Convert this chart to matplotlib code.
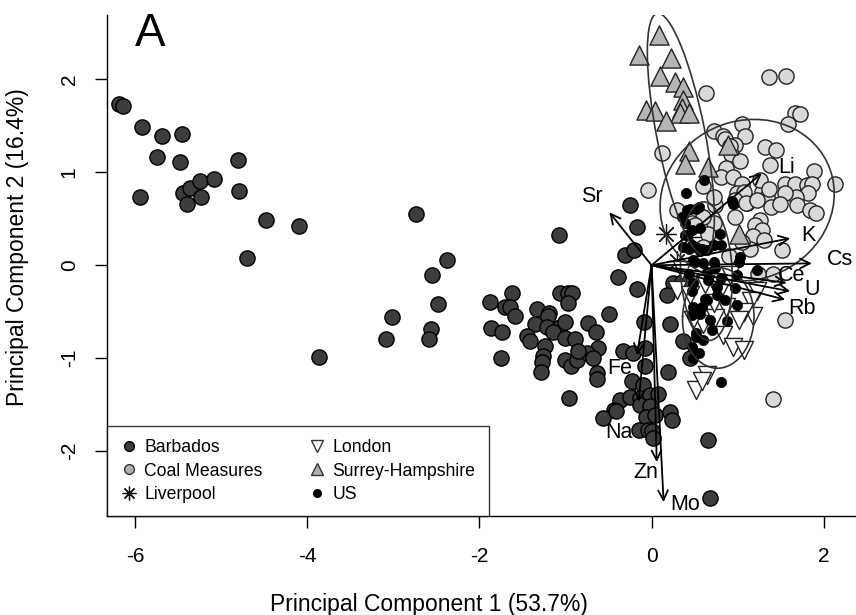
import numpy as np
import matplotlib
matplotlib.use("Agg")
import matplotlib.pyplot as plt
from matplotlib.lines import Line2D
from matplotlib.patches import FancyArrowPatch, Ellipse

plt.rcParams['font.family'] = ['Liberation Sans', 'DejaVu Sans']
plt.rcParams['axes.unicode_minus'] = False

# PCA scores per group (PC1, PC2)
barbados_x = [-6.18, -6.14, -5.92, -5.68, -5.45, -5.74, -5.48, -5.94, -5.44, -5.36, -5.40, -5.24, -5.23,
              -5.08, -4.80, -4.79, -4.48, -4.10, -4.70, -3.86, -2.73, -2.38, -2.55, -2.48, -3.02, -3.08,
              -2.56, -2.58, -1.88, -1.62, -1.70, -1.64, -1.59, -1.87, -1.74, -1.75, -1.33, -1.19, -1.20,
              -1.35, -1.21, -1.06, -1.01, -1.14, -1.45, -1.41, -1.24, -1.26, -1.27, -1.28, -1.06, -0.97,
              -0.92, -0.97, -1.01, -0.89, -1.01, -0.93, -0.87, -0.96, -1.07, -0.25, -0.17, -0.31, -0.20,
              -0.39, -0.17, -0.49, -0.74, -0.64, -0.62, -0.75, -0.68, -0.86, -0.63, -0.63, -0.33, -0.21,
              -0.23, -0.37, -0.44, -0.56, -0.08, -0.09, 0.21, -0.08, 0.19, -0.10, -0.25, -0.13, -0.02,
              0.08, 0.25, 0.18, 0.37, 0.45, 0.35, -0.41, -0.13, -0.02, -0.06, 0.04, 0.21, 0.24, -0.15,
              -0.04, 0.00, 0.02, 0.66, 0.68]
barbados_y = [1.74, 1.71, 1.49, 1.39, 1.41, 1.17, 1.11, 0.74, 0.78, 0.83, 0.66, 0.91, 0.73,
              0.93, 1.13, 0.80, 0.49, 0.42, 0.08, -0.99, 0.55, 0.06, -0.10, -0.42, -0.56, -0.79,
              -0.69, -0.79, -0.40, -0.30, -0.45, -0.45, -0.55, -0.68, -0.72, -1.00, -0.47, -0.51, -0.55,
              -0.63, -0.66, -0.66, -0.61, -0.72, -0.76, -0.82, -0.87, -0.98, -1.04, -1.15, -0.30, -0.30,
              -0.30, -0.41, -0.78, -0.79, -1.02, -1.09, -1.02, -1.43, 0.33, 0.65, 0.41, 0.11, 0.16,
              -0.13, -0.26, -0.52, -0.62, -0.72, -0.89, -0.95, -1.00, -0.92, -1.16, -1.23, -0.92, -0.95,
              -1.25, -1.45, -1.56, -1.65, -0.89, -0.61, -0.63, -1.09, -1.15, -1.29, -1.42, -1.43, -1.40,
              -1.39, -0.19, -0.32, -0.82, -1.00, -0.18, -1.57, -1.51, -1.52, -1.63, -1.61, -1.58, -1.67, -1.77,
              -1.77, -1.78, -1.86, -1.88, -2.51]

coal_x = [1.36, 1.56, 0.63, 1.67, 1.72, 1.58, 1.05, 1.08, 0.72, 0.83, 0.85, 0.97, 0.92, 1.03, 1.32,
          1.44, 1.37, 0.87, 0.81, 0.95, 1.05, 1.89, 2.13, 1.55, 1.67, 1.81, 1.86, 1.82, 1.68, 1.55,
          1.28, 1.34, 1.39, 1.49, 1.69, 1.84, 1.91, 1.11, 0.99, 0.60, 0.74, 1.26, 1.20, 0.97, 0.72,
          0.60, 0.47, 0.12, -0.04, 0.91, 0.72, 1.07, 0.97, 1.10, 1.22, 1.26, 1.36, 1.28, 1.18, 1.30,
          1.14, 1.52, 1.41, 1.24, 1.55, 0.66, 0.50, 1.41, 0.30, 0.60, 0.90, 1.05]
coal_y = [2.03, 2.04, 1.85, 1.64, 1.63, 1.52, 1.52, 1.39, 1.44, 1.39, 1.36, 1.30, 1.20, 1.12, 1.27,
          1.24, 1.08, 1.05, 0.95, 0.95, 0.88, 1.01, 0.87, 0.87, 0.87, 0.86, 0.87, 0.78, 0.74, 0.78,
          0.79, 0.73, 0.63, 0.66, 0.65, 0.60, 0.56, 0.67, 0.78, 0.85, 0.65, 0.49, 0.43, 0.52, 0.45,
          0.52, 0.45, 1.21, 0.81, 1.28, 0.74, 0.79, 0.70, 0.67, 0.70, 0.92, 0.82, 0.38, 0.31, 0.27,
          0.18, 0.16, -0.09, -0.09, -0.59, 0.34, 0.43, -1.44, 0.60, 0.20, 0.10, 0.25]

liverpool_x = [0.17, 0.45, 0.30]
liverpool_y = [0.34, 0.30, 0.05]

london_x = [0.91, 1.22, 1.16, 1.18, 1.07, 0.87, 0.83, 0.95, 1.07, 0.60, 0.74, 0.72, 0.29, 0.45,
            1.01, 0.48, 0.64, 0.52, 0.58, 0.35, 0.62, 0.78]
london_y = [-0.10, -0.28, -0.39, -0.55, -0.50, -0.45, -0.75, -0.88, -0.91, -0.63, -0.57, -0.41,
            -0.27, -0.32, -0.59, -0.59, -1.18, -1.34, -1.25, -0.05, -0.20, -0.30]

surrey_x = [0.09, -0.15, 0.23, 0.10, 0.27, 0.36, 0.36, -0.07, 0.04, 0.35, 0.33, 0.43, 0.17, 0.44,
            0.39, 0.65, 0.89, 1.01]
surrey_y = [2.48, 2.26, 2.23, 2.04, 1.97, 1.92, 1.78, 1.67, 1.66, 1.69, 1.64, 1.64, 1.55, 1.23,
            1.09, 1.06, 1.29, 0.34]

us_x = [0.81, 0.61, 0.55, 0.95, 0.40, 0.45, 0.93, 0.41, 0.52, 0.39, 0.47, 0.56, 0.39, 0.43, 0.58,
        0.64, 0.48, 0.79, 0.52, 0.72, 0.81, 1.03, 1.01, 1.22, 0.60, 0.74, 0.48, 0.66, 0.81, 0.97,
        0.64, 0.76, 0.99, 0.48, 0.56, 0.68, 0.52, 0.47, 0.48, 0.37, 0.47, 0.56, 0.50, 0.72, 0.43,
        0.64, 0.99, 0.47, 0.62, 0.76, 0.58, 0.85, 0.47, 0.52, 0.35, 0.88, 0.60, 0.55, 0.70]
us_y = [-1.26, 0.92, 0.63, 0.66, 0.78, 0.61, 0.69, 0.60, 0.61, 0.45, 0.38, 0.40, 0.33, 0.18, 0.18,
        0.16, 0.06, 0.34, 0.20, 0.22, 0.22, 0.09, 0.04, -0.05, 0.02, -0.03, -0.19, -0.16, -0.14, -0.25,
        -0.37, -0.32, -0.43, -0.45, -0.52, -0.59, -0.73, -0.88, -1.00, 0.20, 0.22, 0.15, 0.04, 0.04, -0.09,
        -0.07, -0.10, -0.28, -0.36, -0.23, -0.45, -0.37, -0.54, -0.77, 0.52, -0.60, -0.80, -0.95, -0.70]

# variable loadings (arrow tips) and label positions
var_names = ['Sr', 'Li', 'K', 'Cs', 'Ce', 'U', 'Rb', 'Fe', 'Na', 'Zn', 'Mo']
load_x = [-0.49, 1.28, 1.61, 1.86, 1.57, 1.61, 1.55, -0.17, -0.15, 0.06, 0.14]
load_y = [0.57, 0.99, 0.29, 0.02, -0.19, -0.28, -0.37, -0.97, -1.47, -2.12, -2.55]
lab_x = [-0.69, 1.57, 1.82, 2.19, 1.63, 1.87, 1.75, -0.37, -0.38, -0.07, 0.39]
lab_y = [0.74, 1.05, 0.32, 0.06, -0.11, -0.26, -0.47, -1.11, -1.80, -2.23, -2.58]

# ellipses for Coal Measures and Surrey-Hampshire:
# centre x, centre y, width, height, angle (deg)
coal_ell = [1.11, 0.70, 2.04, 1.72, 14]
surrey_ell = [0.34, 1.41, 2.66, 0.56, 102]


def data_ellipse(x, y, level, n=200):
    x = np.asarray(x)
    y = np.asarray(y)
    cov = np.cov(x, y)
    vals, vecs = np.linalg.eigh(cov)
    k = np.sqrt(-2 * np.log(1 - level))
    t = np.linspace(0, 2 * np.pi, n)
    circ = np.vstack([np.cos(t), np.sin(t)])
    pts = vecs @ (np.sqrt(vals)[:, None] * k * circ)
    return x.mean() + pts[0], y.mean() + pts[1]


fig = plt.figure(figsize=(8.56, 6.15), dpi=100)
ax = fig.add_axes([0.1254, 0.161, 0.8746, 0.815])

edge = '#222222'
ax.scatter(barbados_x, barbados_y, s=120, c='#3d3d3d', edgecolors='black', linewidths=1.0, zorder=2)
ax.scatter(coal_x, coal_y, s=120, c='#d9d9d9', edgecolors=edge, linewidths=1.0, zorder=2)
ax.scatter(liverpool_x, liverpool_y, s=200, marker=(8, 2, 0), c='#111111', linewidths=0.9, zorder=2)
ax.scatter(london_x, london_y, s=170, marker='v', c='white', edgecolors=edge, linewidths=1.0, zorder=2)
ax.scatter(surrey_x, surrey_y, s=190, marker='^', c='#b5b5b5', edgecolors=edge, linewidths=1.0, zorder=2)
ax.scatter(us_x, us_y, s=55, c='black', edgecolors='black', linewidths=0.5, zorder=2)

# group ellipses
for cx, cy, w, h, ang in [coal_ell, surrey_ell]:
    ax.add_patch(Ellipse((cx, cy), w, h, angle=ang, fill=False, edgecolor='#333333',
                         lw=1.2, zorder=3))
for gx, gy, lev in [(london_x, london_y, 0.68), (us_x, us_y, 0.68)]:
    ex, ey = data_ellipse(gx, gy, lev)
    ax.plot(ex, ey, color='#333333', lw=1.2, zorder=3)

# loading arrows
for name, tx, ty, lx, ly in zip(var_names, load_x, load_y, lab_x, lab_y):
    arr = FancyArrowPatch((0, 0), (tx, ty), arrowstyle='->,head_length=0.7,head_width=0.35',
                          mutation_scale=10, color='black', lw=1.3, zorder=4,
                          shrinkA=0, shrinkB=0)
    ax.add_patch(arr)
    ax.text(lx, ly, name, fontsize=15.5, ha='center', va='center', zorder=5)

ax.set_xlim(-6.32, 2.374)
ax.set_ylim(-2.70, 2.697)
ax.set_xticks([-6, -4, -2, 0, 2])
ax.set_yticks([-2, -1, 0, 1, 2])
ax.tick_params(axis='both', direction='out', length=8.5, width=1, labelsize=15)
ax.tick_params(axis='x', pad=14)
ax.tick_params(axis='y', pad=12)
for lab in ax.get_yticklabels():
    lab.set_rotation(90)
    lab.set_va('center')
ax.spines['top'].set_visible(False)
ax.spines['right'].set_visible(False)
for s in ['left', 'bottom']:
    ax.spines[s].set_linewidth(1.0)

fig.text(429 / 856, 1 - 605 / 615, 'Principal Component 1 (53.7%)', fontsize=16.5,
         ha='center', va='center')
fig.text(18 / 856, 1 - 247 / 615, 'Principal Component 2 (16.4%)', fontsize=16.5,
         ha='center', va='center', rotation=90)
fig.text(150 / 856, 1 - 34 / 615, 'A', fontsize=33, ha='center', va='center')

handles = [
    Line2D([], [], ls='', marker='o', ms=7, mfc='#3d3d3d', mec='black', label='Barbados'),
    Line2D([], [], ls='', marker='o', ms=7, mfc='#b0b0b0', mec='#333333', label='Coal Measures'),
    Line2D([], [], ls='', marker=(8, 2, 0), ms=10, color='#111111', mew=0.9, label='Liverpool'),
    Line2D([], [], ls='', marker='v', ms=9, mfc='white', mec='#333333', label='London'),
    Line2D([], [], ls='', marker='^', ms=9, mfc='#b0b0b0', mec='#333333', label='Surrey-Hampshire'),
    Line2D([], [], ls='', marker='o', ms=5.5, mfc='black', mec='black', label='US'),
]
leg = ax.legend(handles=handles, loc='lower left', bbox_to_anchor=(0, 0), borderaxespad=0,
                ncol=2, fontsize=12.7, frameon=True, fancybox=False, edgecolor='black',
                handlelength=1.0, handletextpad=0.35, columnspacing=2.6, labelspacing=0.35,
                borderpad=0.75)
leg.get_frame().set_linewidth(1.0)
leg.set_zorder(6)

fig.savefig('out.png', dpi=100)
